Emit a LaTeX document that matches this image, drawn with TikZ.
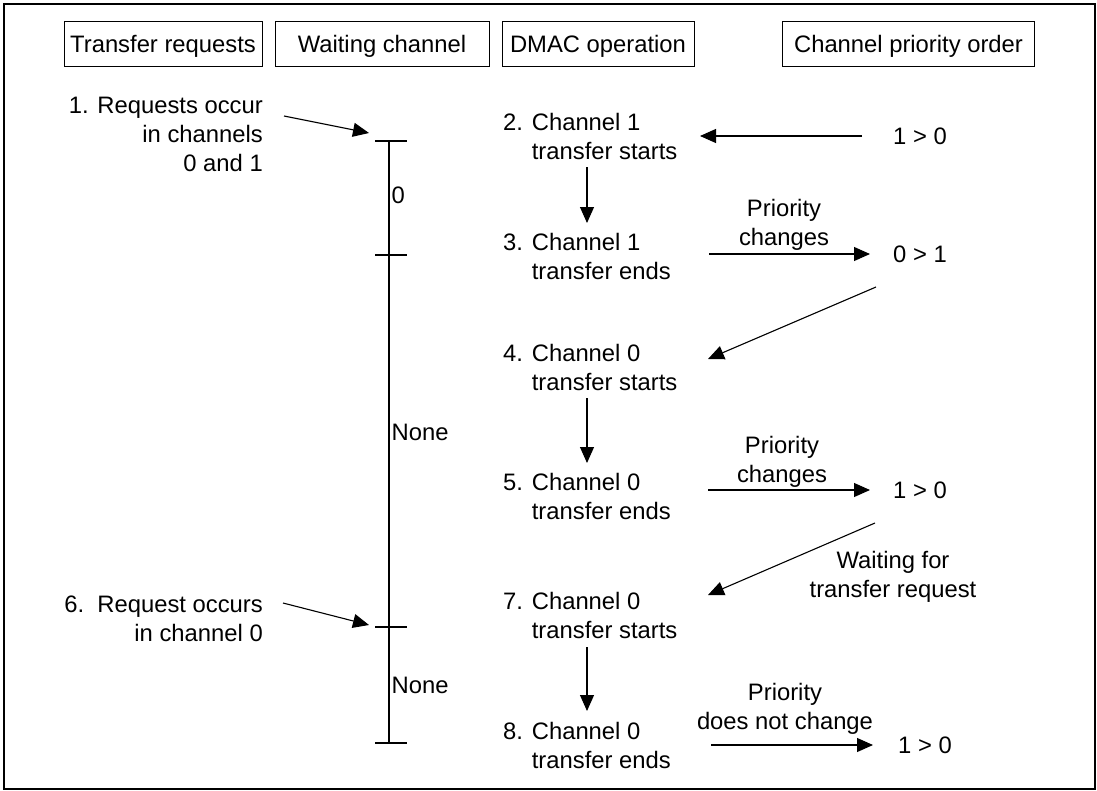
\documentclass[tikz,border=0pt]{standalone}
\usepackage{fontspec}
\setmainfont{Liberation Sans}
\usetikzlibrary{arrows.meta}
\begin{document}
\begin{tikzpicture}[x=1pt,y=-1pt,
  txt/.style={font=\fontsize{23.8}{29}\selectfont, inner sep=0pt},
  hdr/.style={txt, draw, line width=0.9pt, minimum height=45pt, text height=17pt, text depth=0pt},
  arr/.style={line width=1.1pt, -{Triangle[length=16pt,width=14pt]}},
  ln/.style={line width=1.1pt},
  dm/.style={txt, anchor=west, align=left},
  lt/.style={txt, anchor=east, align=right},
  mid/.style={txt, align=center},
  lab/.style={txt, anchor=west}]
\useasboundingbox (0,0) rectangle (1097,790);
\draw[line width=2pt] (4,4.3) rectangle (1095,788.5);

% headers
\node[hdr, minimum width=198pt] (h1) at (163,43.5) {Transfer requests};
\node[hdr, minimum width=214pt] (h2) at (382,43.5) {Waiting channel};
\node[hdr, minimum width=192pt] (h3) at (598,43.5) {DMAC operation};
\node[hdr, minimum width=252pt] (h4) at (908.5,43.5) {Channel priority order};

% transfer requests
\node[lt] (l1) at (263,136.7) {\strut 1. Requests occur\\in channels\\0 and 1\strut};
\node[lt] (l6) at (263,621.2) {\strut 6.\ \ Request occurs\\in channel 0\strut};

% waiting channel timeline
\coordinate (t1) at (389,141);
\coordinate (t2) at (389,255);
\coordinate (t3) at (389,627);
\coordinate (t4) at (389,743);
\draw[ln] (t1) -- (t4);
\foreach \t in {t1,t2,t3,t4}
  \draw[ln] ([xshift=-14pt]\t) -- ([xshift=18pt]\t);
\node[lab] (w0) at (391.5,195) {0};
\node[lab] (wn1) at (391.5,432) {None};
\node[lab] (wn2) at (391.5,685) {None};

% DMAC operation
\node[dm] (d2) at (503,138.7) {\strut 2. Channel 1\\\phantom{2. }transfer starts\strut};
\node[dm] (d3) at (503,258.7) {\strut 3. Channel 1\\\phantom{3. }transfer ends\strut};
\node[dm] (d4) at (503,369.7) {\strut 4. Channel 0\\\phantom{4. }transfer starts\strut};
\node[dm] (d5) at (503,499.2) {\strut 5. Channel 0\\\phantom{5. }transfer ends\strut};
\node[dm] (d7) at (503,618.2) {\strut 7. Channel 0\\\phantom{7. }transfer starts\strut};
\node[dm] (d8) at (503,748.2) {\strut 8. Channel 0\\\phantom{8. }transfer ends\strut};

% channel priority order
\node[txt] (r2) at (920,136) {1 > 0};
\node[txt] (r3) at (920,254) {0 > 1};
\node[txt] (r5) at (920,490) {1 > 0};
\node[txt] (r8) at (925,745) {1 > 0};

% arrow labels
\node[mid] (p3) at (784,224.7) {\strut Priority\\changes\strut};
\node[mid] (p5) at (782,461.7) {\strut Priority\\changes\strut};
\node[mid] (p8) at (785,709.2) {\strut Priority\\does not change\strut};
\node[mid] (wt) at (893,576.7) {\strut Waiting for\\transfer request\strut};

% connector end points
\coordinate (a1s) at (284,116);  \coordinate (a1e) at (369,133);
\coordinate (a6s) at (283,603);  \coordinate (a6e) at (369,625);
\coordinate (v23s) at (587,167); \coordinate (v23e) at (587,223);
\coordinate (v45s) at (587,398); \coordinate (v45e) at (587,463);
\coordinate (v78s) at (587,647); \coordinate (v78e) at (587,711);
\coordinate (e2s) at (862,136);  \coordinate (e2e) at (700,136);
\coordinate (e3s) at (709,254);  \coordinate (e3e) at (870,254);
\coordinate (e5s) at (708,490);  \coordinate (e5e) at (870,490);
\coordinate (e8s) at (711,745);  \coordinate (e8e) at (873,745);
\coordinate (g34s) at (876,287); \coordinate (g34e) at (708,359);
\coordinate (g57s) at (875,523); \coordinate (g57e) at (708,595);

% connectors
\draw[arr] (a1s) -- (a1e);
\draw[arr] (a6s) -- (a6e);
\draw[arr] (v23s) -- (v23e);
\draw[arr] (v45s) -- (v45e);
\draw[arr] (v78s) -- (v78e);
\draw[arr] (e2s) -- (e2e);
\draw[arr] (e3s) -- (e3e);
\draw[arr] (e5s) -- (e5e);
\draw[arr] (e8s) -- (e8e);
\draw[arr] (g34s) -- (g34e);
\draw[arr] (g57s) -- (g57e);
\end{tikzpicture}
\end{document}
